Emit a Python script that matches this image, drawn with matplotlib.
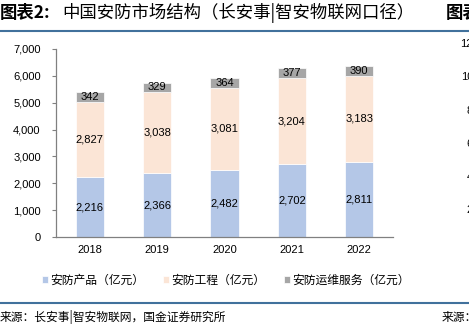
import numpy as np
import matplotlib.pyplot as plt

plt.rcParams['font.family'] = ['Liberation Sans', 'Noto Sans CJK SC', 'DejaVu Sans']

years = ['2018', '2019', '2020', '2021', '2022']
chanpin = [2216, 2366, 2482, 2702, 2811]
gongcheng = [2827, 3038, 3081, 3204, 3183]
yunwei = [342, 329, 364, 377, 390]

names = ['安防产品（亿元）', '安防工程（亿元）', '安防运维服务（亿元）']
colors = ['#b4c7e7', '#fbe5d6', '#a6a6a6']

fig = plt.figure(figsize=(4.69, 3.31), dpi=100)
ax = fig.add_axes([56/469, 1-237/331, 337/469, 188/331])

x = np.arange(len(years))
w = 0.42
bottom = np.zeros(len(years))
for vals, c, nm in zip([chanpin, gongcheng, yunwei], colors, names):
    vals = np.array(vals)
    ax.bar(x, vals, w, bottom=bottom, color=c, label=nm, edgecolor='white', linewidth=0.5)
    for xi, b, v in zip(x, bottom, vals):
        ax.text(xi, b + v/2, f'{v:,}', ha='center', va='center', fontsize=8, color='black')
    bottom = bottom + vals

ax.set_xlim(-0.5, 4.5)
ax.set_ylim(0, 7000)
ax.set_yticks(range(0, 7001, 1000))
ax.set_yticklabels([f'{v:,}' for v in range(0, 7001, 1000)])
ax.set_xticks(x)
ax.set_xticklabels(years)
ax.tick_params(axis='y', length=3, width=0.8, color='#808080', labelsize=8, pad=8)
ax.tick_params(axis='x', length=0, labelsize=8, pad=6)
for s in ['top', 'right']:
    ax.spines[s].set_visible(False)
for s in ['left', 'bottom']:
    ax.spines[s].set_color('#808080')
    ax.spines[s].set_linewidth(0.9)

leg = fig.legend(loc='center left', bbox_to_anchor=(37/469, 1-280/331), ncol=3, frameon=False,
                 handlelength=0.5, handleheight=0.5, handletextpad=0.2, borderaxespad=0,
                 columnspacing=1.6, prop={'family': ['Noto Sans CJK SC'], 'size': 8.5})

# 标题与页脚
fig.text(0.0, 1-13/331, '图表2:', ha='left', va='center',
         fontsize=12.5, fontweight='bold', family=['Noto Sans CJK SC', 'DejaVu Sans'])
fig.text(62/469, 1-13/331, '中国安防市场结构（长安事|智安物联网口径）', ha='left', va='center',
         fontsize=12.5, fontweight=500, family=['Noto Sans CJK SC', 'DejaVu Sans'])
fig.text(446/469, 1-13/331, '图表', ha='left', va='center',
         fontsize=12.5, fontweight='bold', family=['Noto Sans CJK SC'])
fig.add_artist(plt.Line2D([0, 1], [1-30.5/331, 1-30.5/331], color='#41719c', linewidth=1.5))
fig.add_artist(plt.Line2D([0, 1], [1-303/331, 1-303/331], color='#41719c', linewidth=1.5))
fig.text(0.0, 1-317/331, '来源：长安事|智安物联网，国金证券研究所', ha='left', va='center',
         fontsize=8.5, family=['Noto Sans CJK SC'])
fig.text(442/469, 1-317/331, '来源：', ha='left', va='center', fontsize=8.5, family=['Noto Sans CJK SC'])

# 右侧相邻图表的残留刻度
for lab, yy in zip(['12', '10', '8', '6', '4', '2'], [44, 77, 111, 144, 177, 210]):
    fig.text(473/469, 1-yy/331, lab, ha='right', va='center', fontsize=8)

fig.savefig('out.png', dpi=100)
